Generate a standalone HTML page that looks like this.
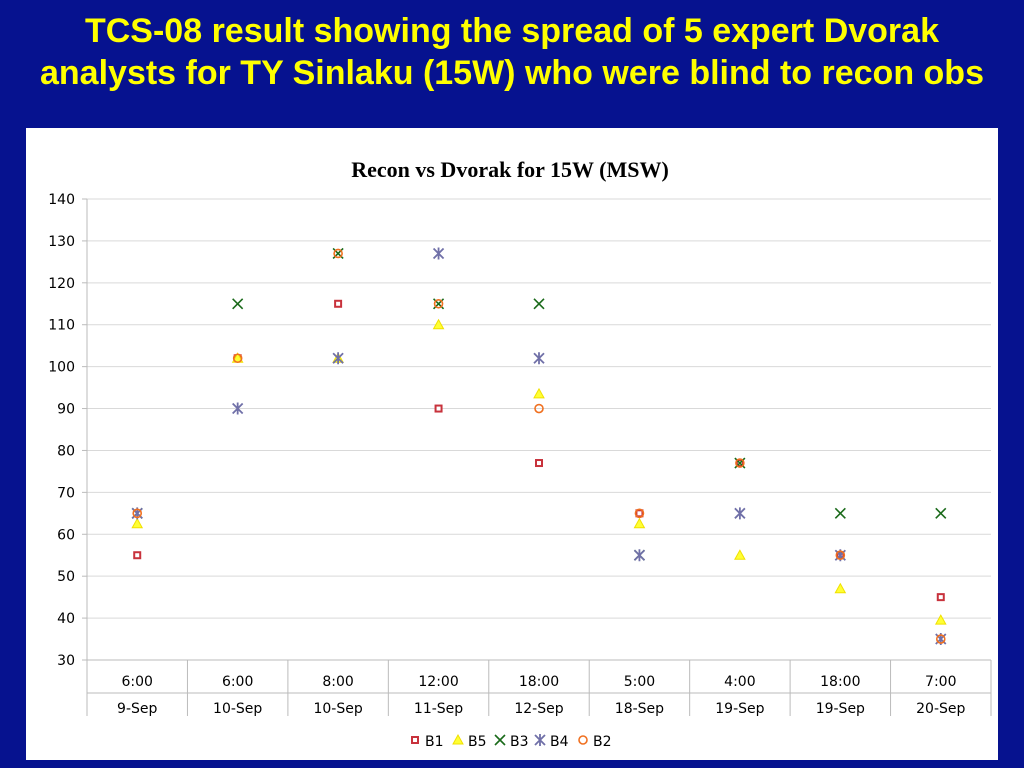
<!DOCTYPE html>
<html><head><meta charset="utf-8"><style>
body{margin:0;background:#06128f;width:1024px;height:768px;overflow:hidden;font-family:"Liberation Sans",sans-serif}
.t{position:absolute;left:0;width:1024px;text-align:center;color:#ffff00;font-weight:bold;font-size:34px;line-height:42px;white-space:nowrap}
#panel{position:absolute;left:26px;top:128px;width:972px;height:632px;background:#fff}
</style></head><body>
<div class="t" style="top:10px">TCS-08 result showing the spread of 5 expert Dvorak<br>analysts for TY Sinlaku (15W) who were blind to recon obs</div>
<div id="panel"></div>
<svg id="c" width="1024" height="768" style="position:absolute;left:0;top:0"></svg>
<script>
const times=["6:00","6:00","8:00","12:00","18:00","5:00","4:00","18:00","7:00"];
const dates=["9-Sep","10-Sep","10-Sep","11-Sep","12-Sep","18-Sep","19-Sep","19-Sep","20-Sep"];
const yTicks=[30,40,50,60,70,80,90,100,110,120,130,140];
const b1=[55,102,115,90,77,65,77,55,45];
const b5=[62.5,102,102,110,93.5,62.5,55,47,39.5];
const b3=[65,115,127,115,115,55,77,65,65];
const b4=[65,90,102,127,102,55,65,55,35];
const b2=[65,102,127,115,90,65,77,55,35];
const NS="http://www.w3.org/2000/svg";
const svg=document.getElementById('c');
const L=87,R=991,T=199,B=660,ymin=30,ymax=140;
const cw=(R-L)/times.length;
const xs=i=>L+cw*(i+0.5);
const ys=v=>B-(v-ymin)/(ymax-ymin)*(B-T);
function el(tag,a,txt){const e=document.createElementNS(NS,tag);for(const k in a)e.setAttribute(k,a[k]);if(txt!=null)e.textContent=txt;svg.appendChild(e);return e;}
let t=el('text',{x:510,y:177,'text-anchor':'middle','font-family':'Liberation Serif,serif','font-weight':'bold','font-size':22,fill:'#000'},'Recon vs Dvorak for 15W (MSW)');


yTicks.forEach(v=>{
 const g=el('line',{x1:L,x2:R,y1:ys(v),y2:ys(v),stroke:'#d9d9d9','stroke-width':1});
 
 
 const k=el('line',{x1:L-5,x2:L,y1:ys(v),y2:ys(v),stroke:'#bbb'});
 
 
 const lb=el('text',{x:75,y:ys(v)+5,'text-anchor':'end','font-size':14,fill:'#000','font-family':'DejaVu Sans,sans-serif'},v);
 
 
});
let ax=el('line',{x1:L,x2:L,y1:T,y2:716,stroke:'#bbb'});


let xa=el('line',{x1:L,x2:R,y1:B,y2:B,stroke:'#bbb'});


for(let i=0;i<=times.length;i++){
 const d=el('line',{x1:L+cw*i,x2:L+cw*i,y1:B,y2:716,stroke:'#bbb'});
 
 
}
let dl=el('line',{x1:L,x2:R,y1:693,y2:693,stroke:'#bbb'});


times.forEach((s,i)=>{
 const a=el('text',{x:xs(i),y:686,'text-anchor':'middle','font-size':14,'font-family':'DejaVu Sans,sans-serif'},s);
 
 
 const b=el('text',{x:xs(i),y:713,'text-anchor':'middle','font-size':14,'font-family':'DejaVu Sans,sans-serif'},dates[i]);
 
 
});
function marker(type,x,y){
 let e;
 if(type==='sq')e=el('rect',{x:x-3,y:y-3,width:6,height:6,fill:'#fff',stroke:'#c8323c','stroke-width':2});
 else if(type==='tri')e=el('path',{d:`M${x-5} ${y+4}L${x} ${y-5}L${x+5} ${y+4}Z`,fill:'#ffff33',stroke:'#f0e000','stroke-width':1});
 else if(type==='x')e=el('path',{d:`M${x-5} ${y-5}L${x+5} ${y+5}M${x-5} ${y+5}L${x+5} ${y-5}`,stroke:'#1a6a1a','stroke-width':1.6,fill:'none'});
 else if(type==='star')e=el('path',{d:`M${x-5} ${y-5}L${x+5} ${y+5}M${x-5} ${y+5}L${x+5} ${y-5}M${x} ${y-6}L${x} ${y+6}`,stroke:'#7070a8','stroke-width':1.8,fill:'none'});
 else e=el('circle',{cx:x,cy:y,r:4,fill:'none',stroke:'#f07020','stroke-width':1.6});
 return e;
}
const series=[[b1,'sq','B1'],[b5,'tri','B5'],[b3,'x','B3'],[b4,'star','B4'],[b2,'circ','B2']];
series.forEach(([arr,type,name])=>{
 arr.forEach((v,i)=>{
  const m=marker(type,xs(i),ys(v));
  
  
 });
});
let lx=[415,458,500,540,583];
series.forEach(([arr,type,name],k)=>{
 const m=marker(type,lx[k],740);
 
 
 const tx=el('text',{x:lx[k]+10,y:746,'font-size':14,'font-family':'DejaVu Sans,sans-serif'},name);
 
 
});
</script>
</body></html>
